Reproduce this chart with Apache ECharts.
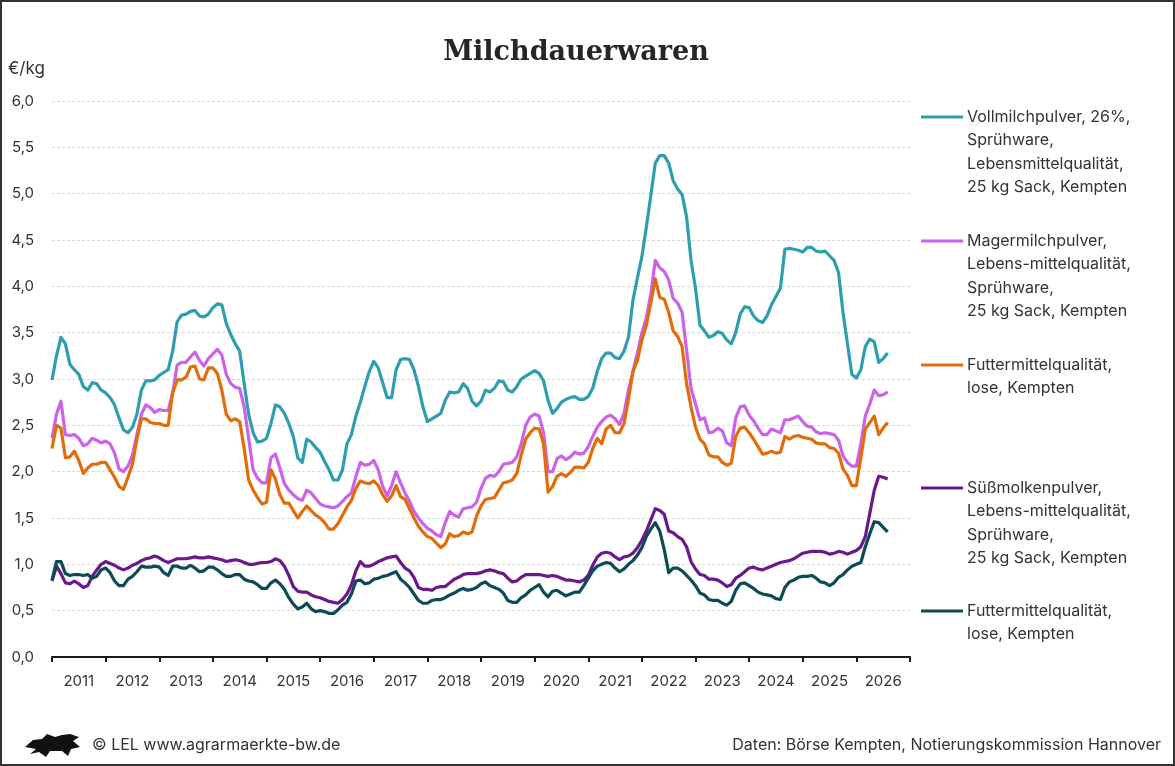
<!DOCTYPE html>
<html>
<head>
<meta charset="utf-8">
<script src="https://cdn.jsdelivr.net/npm/echarts@6/dist/echarts.min.js"></script>
<style>
  html, body { margin: 0; padding: 0; background: #fff; }
  #chart { width: 1175px; height: 766px; }
</style>
</head>
<body>
<div id="chart"></div>
<script>
// monthly quotations, first value = Jul 2010
const startYear = 2010;
const startMonth = 7;
const axisMonths = 193; // Jul 2010 .. Jul 2026

const seriesNames = [
  "Vollmilchpulver, 26%,\nSprühware,\nLebensmittelqualität,\n25 kg Sack, Kempten",
  "Magermilchpulver,\nLebens-mittelqualität,\nSprühware,\n25 kg Sack, Kempten",
  "Futtermittelqualität,\nlose, Kempten",
  "Süßmolkenpulver,\nLebens-mittelqualität,\nSprühware,\n25 kg Sack, Kempten",
  "Futtermittelqualität,\nlose, Kempten "
];
const seriesColors = ["#2f9db0", "#cc62ea", "#e36c0a", "#6b188c", "#0c4b56"];

const vollmilch = [
  2.99, 3.25, 3.45, 3.38, 3.16, 3.10, 3.05, 2.92, 2.88, 2.96, 2.95, 2.88,
  2.85, 2.80, 2.72, 2.58, 2.45, 2.42, 2.48, 2.62, 2.88, 2.98, 2.98, 2.99,
  3.04, 3.07, 3.10, 3.30, 3.62, 3.69, 3.70, 3.73, 3.74, 3.68, 3.67, 3.70,
  3.77, 3.81, 3.80, 3.60, 3.48, 3.38, 3.30, 2.95, 2.62, 2.42, 2.32, 2.33,
  2.36, 2.52, 2.72, 2.70, 2.63, 2.52, 2.38, 2.15, 2.10, 2.35, 2.32, 2.26,
  2.21, 2.11, 2.02, 1.91, 1.91, 2.02, 2.30, 2.40, 2.60, 2.75, 2.92, 3.08,
  3.19, 3.12, 2.96, 2.80, 2.80, 3.10, 3.21, 3.22, 3.21, 3.10, 2.92, 2.70,
  2.54, 2.57, 2.60, 2.63, 2.77, 2.86, 2.85, 2.86, 2.95, 2.90, 2.76, 2.71,
  2.76, 2.88, 2.86, 2.90, 2.98, 2.97, 2.88, 2.86, 2.92, 3.00, 3.03, 3.06,
  3.09, 3.06, 2.98, 2.77, 2.63, 2.68, 2.75, 2.78, 2.80, 2.81, 2.78, 2.78,
  2.81, 2.90, 3.08, 3.22, 3.28, 3.28, 3.23, 3.22, 3.30, 3.45, 3.85, 4.09,
  4.32, 4.64, 4.98, 5.33, 5.41, 5.41, 5.33, 5.14, 5.05, 4.99, 4.75, 4.28,
  3.98, 3.58, 3.52, 3.45, 3.47, 3.51, 3.49, 3.42, 3.38, 3.50, 3.70, 3.78,
  3.77, 3.68, 3.63, 3.61, 3.68, 3.80, 3.89, 3.98, 4.40, 4.41, 4.40, 4.39,
  4.37, 4.42, 4.42, 4.38, 4.37, 4.38, 4.33, 4.28, 4.15, 3.72, 3.38, 3.05,
  3.01, 3.10, 3.35, 3.43, 3.40, 3.18, 3.22, 3.28
];

const magermilch = [
  2.36, 2.62, 2.76, 2.40, 2.39, 2.40, 2.36, 2.28, 2.30, 2.36, 2.34, 2.31,
  2.33, 2.30, 2.20, 2.03, 2.00, 2.06, 2.18, 2.40, 2.62, 2.72, 2.69, 2.64,
  2.67, 2.66, 2.66, 2.85, 3.15, 3.18, 3.18, 3.24, 3.29, 3.20, 3.14, 3.22,
  3.27, 3.32, 3.26, 3.05, 2.95, 2.91, 2.90, 2.70, 2.36, 2.02, 1.93, 1.88,
  1.88, 2.15, 2.19, 2.04, 1.87, 1.80, 1.75, 1.71, 1.69, 1.80, 1.77, 1.71,
  1.65, 1.63, 1.62, 1.61, 1.63, 1.68, 1.73, 1.77, 1.95, 2.10, 2.07, 2.08,
  2.12, 2.02, 1.84, 1.74, 1.85, 2.00, 1.88, 1.77, 1.68, 1.57, 1.50, 1.44,
  1.39, 1.36, 1.32, 1.30, 1.45, 1.57, 1.53, 1.51, 1.60, 1.61, 1.62, 1.67,
  1.82, 1.93, 1.96, 1.95, 2.00, 2.08, 2.09, 2.10, 2.16, 2.30, 2.50, 2.59,
  2.62, 2.60, 2.42, 2.00, 2.00, 2.14, 2.17, 2.13, 2.16, 2.21, 2.19, 2.20,
  2.27, 2.38, 2.48, 2.54, 2.59, 2.61, 2.57, 2.51, 2.63, 2.88, 3.08, 3.28,
  3.50, 3.66, 3.92, 4.28, 4.20, 4.16, 4.07, 3.87, 3.82, 3.72, 3.31, 2.90,
  2.73, 2.56, 2.58, 2.42, 2.43, 2.47, 2.44, 2.31, 2.28, 2.58, 2.70, 2.71,
  2.61, 2.55, 2.47, 2.40, 2.40, 2.46, 2.44, 2.42, 2.56, 2.56, 2.58, 2.60,
  2.54, 2.49, 2.48, 2.43, 2.41, 2.42, 2.41, 2.40, 2.34, 2.17, 2.10, 2.06,
  2.06, 2.30, 2.60, 2.73, 2.88, 2.82, 2.83, 2.86
];

const magerFutter = [
  2.25, 2.50, 2.47, 2.15, 2.16, 2.22, 2.12, 1.98, 2.04, 2.08, 2.08, 2.10,
  2.10, 2.02, 1.94, 1.84, 1.81, 1.94, 2.08, 2.35, 2.57, 2.57, 2.53, 2.52,
  2.52, 2.50, 2.50, 2.85, 2.99, 2.99, 3.02, 3.13, 3.14, 3.00, 2.99, 3.12,
  3.12, 3.06, 2.88, 2.62, 2.55, 2.57, 2.54, 2.25, 1.91, 1.80, 1.72, 1.65,
  1.67, 2.02, 1.92, 1.75, 1.66, 1.66, 1.58, 1.50, 1.57, 1.63, 1.58, 1.53,
  1.50, 1.45, 1.38, 1.38, 1.44, 1.53, 1.62, 1.69, 1.82, 1.90, 1.88, 1.87,
  1.90, 1.85, 1.75, 1.68, 1.74, 1.85, 1.73, 1.70, 1.60, 1.50, 1.41, 1.35,
  1.30, 1.28, 1.23, 1.18, 1.22, 1.33, 1.30, 1.31, 1.35, 1.33, 1.35, 1.52,
  1.63, 1.70, 1.71, 1.72, 1.80, 1.88, 1.89, 1.91, 1.98, 2.18, 2.35, 2.42,
  2.47, 2.46, 2.30, 1.78, 1.84, 1.95, 1.98, 1.95, 1.99, 2.05, 2.05, 2.04,
  2.10, 2.25, 2.36, 2.30, 2.46, 2.50, 2.42, 2.42, 2.52, 2.78, 3.08, 3.20,
  3.42, 3.58, 3.82, 4.08, 3.88, 3.86, 3.72, 3.52, 3.46, 3.35, 2.95, 2.70,
  2.48, 2.35, 2.30, 2.18, 2.16, 2.16, 2.10, 2.07, 2.09, 2.38, 2.47, 2.48,
  2.42, 2.35, 2.27, 2.19, 2.20, 2.22, 2.20, 2.21, 2.38, 2.35, 2.38, 2.39,
  2.37, 2.36, 2.35, 2.31, 2.30, 2.30, 2.26, 2.25, 2.20, 2.03, 1.96, 1.85,
  1.85, 2.15, 2.46, 2.53, 2.60, 2.40, 2.47, 2.53
];

const suessmolke = [
  0.82, 0.98, 0.90, 0.80, 0.79, 0.82, 0.79, 0.75, 0.77, 0.87, 0.94, 1.00,
  1.03, 1.01, 0.99, 0.96, 0.94, 0.96, 0.99, 1.01, 1.04, 1.06, 1.07, 1.09,
  1.07, 1.04, 1.02, 1.04, 1.06, 1.06, 1.06, 1.07, 1.08, 1.07, 1.07, 1.08,
  1.07, 1.06, 1.05, 1.03, 1.04, 1.05, 1.04, 1.02, 1.00, 1.00, 1.01, 1.02,
  1.02, 1.03, 1.06, 1.04, 0.98, 0.88, 0.76, 0.71, 0.70, 0.70, 0.67, 0.65,
  0.64, 0.62, 0.60, 0.59, 0.58, 0.62, 0.68, 0.78, 0.93, 1.03, 0.98, 0.98,
  1.00, 1.03, 1.05, 1.07, 1.08, 1.09, 1.02, 0.96, 0.93, 0.86, 0.75, 0.73,
  0.73, 0.72, 0.75, 0.76, 0.76, 0.80, 0.84, 0.86, 0.89, 0.90, 0.90, 0.90,
  0.91, 0.93, 0.94, 0.93, 0.91, 0.90, 0.85, 0.81, 0.82, 0.86, 0.89, 0.89,
  0.89, 0.89, 0.88, 0.87, 0.88, 0.87, 0.85, 0.83, 0.83, 0.82, 0.81, 0.83,
  0.88, 0.99, 1.08, 1.12, 1.13, 1.12, 1.08, 1.05, 1.08, 1.09, 1.12, 1.18,
  1.26, 1.36, 1.48, 1.60, 1.58, 1.54, 1.36, 1.34, 1.30, 1.27, 1.19, 1.03,
  0.95, 0.89, 0.88, 0.84, 0.84, 0.83, 0.80, 0.76, 0.78, 0.85, 0.88, 0.92,
  0.96, 0.97, 0.95, 0.94, 0.96, 0.98, 1.00, 1.02, 1.03, 1.04, 1.06, 1.09,
  1.12, 1.13, 1.14, 1.14, 1.14, 1.13, 1.11, 1.12, 1.14, 1.13, 1.11, 1.13,
  1.15, 1.19, 1.30, 1.55, 1.80, 1.95, 1.94, 1.92
];

const molkeFutter = [
  0.83, 1.03, 1.03, 0.90, 0.88, 0.89, 0.89, 0.88, 0.89, 0.85, 0.87, 0.94,
  0.96, 0.91, 0.82, 0.77, 0.77, 0.84, 0.87, 0.92, 0.98, 0.97, 0.97, 0.98,
  0.97, 0.91, 0.88, 0.98, 0.98, 0.96, 0.96, 0.99, 0.96, 0.92, 0.93, 0.97,
  0.97, 0.94, 0.90, 0.87, 0.87, 0.89, 0.89, 0.84, 0.82, 0.81, 0.78, 0.74,
  0.74, 0.80, 0.83, 0.79, 0.73, 0.64, 0.57, 0.52, 0.54, 0.58, 0.52, 0.49,
  0.50, 0.49, 0.47, 0.47, 0.51, 0.56, 0.59, 0.68, 0.82, 0.83, 0.79, 0.80,
  0.84, 0.85, 0.87, 0.88, 0.90, 0.92, 0.84, 0.80, 0.75, 0.68, 0.61, 0.58,
  0.58, 0.61, 0.62, 0.62, 0.64, 0.67, 0.69, 0.72, 0.74, 0.72, 0.73, 0.75,
  0.79, 0.81, 0.77, 0.75, 0.73, 0.69, 0.61, 0.59, 0.59, 0.64, 0.67, 0.72,
  0.75, 0.78, 0.70, 0.65, 0.71, 0.72, 0.69, 0.66, 0.68, 0.70, 0.70, 0.77,
  0.85, 0.93, 0.98, 1.00, 1.02, 1.01, 0.96, 0.92, 0.95, 1.00, 1.04, 1.10,
  1.18, 1.30, 1.38, 1.45, 1.36, 1.16, 0.91, 0.96, 0.96, 0.93, 0.88, 0.83,
  0.77, 0.69, 0.67, 0.62, 0.61, 0.61, 0.58, 0.56, 0.60, 0.72, 0.79, 0.80,
  0.77, 0.74, 0.70, 0.68, 0.67, 0.66, 0.63, 0.62, 0.75, 0.81, 0.83, 0.86,
  0.87, 0.87, 0.88, 0.85, 0.81, 0.80, 0.77, 0.80, 0.86, 0.89, 0.94, 0.98,
  1.00, 1.02, 1.19, 1.33, 1.46, 1.45, 1.40, 1.35
];

const seriesData = [vollmilch, magermilch, magerFutter, suessmolke, molkeFutter];

// month categories along the axis
const months = [];
for (let i = 0; i < axisMonths; i++) {
  const idx = startMonth - 1 + i;
  const y = startYear + Math.floor(idx / 12);
  const m = (idx % 12) + 1;
  months.push(y + "-" + (m < 10 ? "0" : "") + m);
}

const font = "Inter, Roboto, sans-serif";
const textColor = "#333333";
const legendTop = [117, 241, 365, 488, 611];

const legendGraphics = [];
seriesNames.forEach((name, i) => {
  legendGraphics.push({
    type: "line",
    shape: { x1: 921, y1: legendTop[i], x2: 963, y2: legendTop[i] },
    style: { stroke: seriesColors[i], lineWidth: 3 }
  });
  legendGraphics.push({
    type: "text",
    x: 967,
    y: legendTop[i] - 11.5,
    style: {
      text: name.trim(),
      font: "16px " + font,
      fill: textColor,
      lineHeight: 23.3,
      textVerticalAlign: "top"
    }
  });
});

const chart = echarts.init(document.getElementById("chart"));

chart.setOption({
  backgroundColor: "#ffffff",
  animation: false,
  grid: { left: 52, right: 265, top: 101, bottom: 109 },
  xAxis: {
    type: "category",
    data: months,
    boundaryGap: false,
    axisLine: { lineStyle: { color: "#1a1a1a", width: 2 } },
    axisTick: {
      length: 5,
      lineStyle: { color: "#1a1a1a", width: 2 },
      interval: (index) => index % 12 === 0
    },
    axisLabel: {
      interval: (index) => index % 12 === 6,
      formatter: (value) => value.slice(0, 4),
      color: textColor,
      fontFamily: font,
      fontSize: 15,
      margin: 17
    },
    splitLine: { show: false }
  },
  yAxis: {
    type: "value",
    min: 0,
    max: 6,
    interval: 0.5,
    axisLine: { show: false },
    axisTick: { show: false },
    axisLabel: {
      formatter: (v) => v.toFixed(1).replace(".", ","),
      color: textColor,
      fontFamily: font,
      fontSize: 15,
      margin: 18
    },
    splitLine: { lineStyle: { color: "#d9d9d9", type: [3, 2], width: 1 } }
  },
  series: seriesData.map((data, i) => ({
    name: seriesNames[i],
    type: "line",
    data: data,
    showSymbol: false,
    lineStyle: { color: seriesColors[i], width: 3.2, join: "round" },
    itemStyle: { color: seriesColors[i] }
  })),
  graphic: [
    {
      type: "rect",
      shape: { x: 1, y: 1, width: 1173, height: 764 },
      style: { fill: "none", stroke: "#333333", lineWidth: 2 },
      silent: true
    },
    {
      type: "text",
      x: 576,
      y: 53,
      style: {
        text: "Milchdauerwaren",
        font: "bold 27px 'DejaVu Serif', serif",
        fill: "#262626",
        textAlign: "center",
        textVerticalAlign: "middle"
      }
    },
    {
      type: "text",
      x: 8,
      y: 69,
      style: {
        text: "€/kg",
        font: "17px " + font,
        fill: textColor,
        textVerticalAlign: "middle"
      }
    },
    {
      type: "polygon",
      shape: {
        points: [[25, 747], [33, 740], [42, 739], [47, 734], [55, 737], [62, 735], [70, 734], [79, 737],
          [73, 741], [80, 747], [71, 749], [68, 756], [62, 751], [50, 751], [46, 757], [39, 752], [30, 754], [36, 749]]
      },
      style: { fill: "#111111" }
    },
    {
      type: "text",
      x: 92,
      y: 745,
      style: {
        text: "© LEL www.agrarmaerkte-bw.de",
        font: "16px " + font,
        fill: textColor,
        textVerticalAlign: "middle"
      }
    },
    {
      type: "text",
      x: 1161,
      y: 745,
      style: {
        text: "Daten: Börse Kempten, Notierungskommission Hannover",
        font: "16px " + font,
        fill: textColor,
        textAlign: "right",
        textVerticalAlign: "middle"
      }
    }
  ].concat(legendGraphics)
});
</script>
</body>
</html>
